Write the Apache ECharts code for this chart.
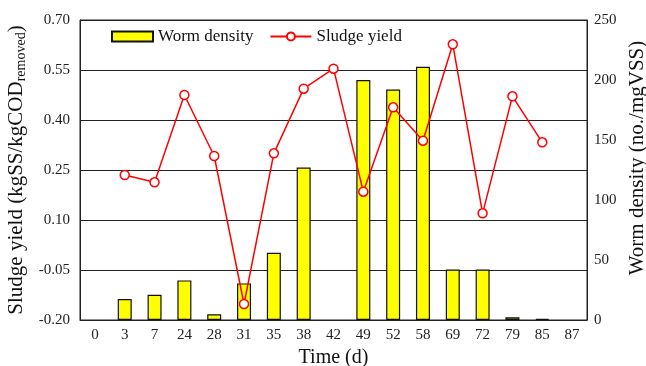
<!DOCTYPE html>
<html>
<head>
<meta charset="utf-8">
<script src="https://cdn.jsdelivr.net/npm/echarts@6/dist/echarts.min.js"></script>
<style>
  html, body { margin: 0; padding: 0; background: #fff; }
  #main { width: 646px; height: 366px; }
</style>
</head>
<body>
<div id="main"></div>
<script>
// days on the x axis
var days = ['0', '3', '7', '24', '28', '31', '35', '38', '42', '49', '52', '58', '69', '72', '79', '85', '87'];
// worm density (no./mgVSS), right axis
var wormDensity = [null, 17.5, 21, 33, 4.7, 30.5, 56, 127, null, 200, 192, 211, 42, 42, 2.2, 1, null];
// sludge yield (kgSS/kgCOD removed), left axis
var sludgeYield = [null, 0.235, 0.213, 0.475, 0.292, -0.152, 0.30, 0.494, 0.554, 0.185, 0.438, 0.338, 0.627, 0.12, 0.471, 0.333, null];

var font = 'Liberation Serif';
var chart = echarts.init(document.getElementById('main'));

var option = {
  textStyle: { fontFamily: font },
  grid: {
    left: 80, right: 59, top: 20, bottom: 46,
    outerBoundsMode: 'none',
    show: true, borderColor: '#222', borderWidth: 1
  },
  legend: {
    left: 106, top: 23,
    itemWidth: 41, itemHeight: 10, itemGap: 16,
    textStyle: { fontFamily: font, fontSize: 17, color: '#111' },
    data: [{ name: 'Worm density', icon: 'rect' }, { name: 'Sludge yield' }]
  },
  xAxis: {
    type: 'category',
    data: days,
    axisLine: { onZero: false, lineStyle: { color: '#222' } },
    axisTick: { show: false },
    axisLabel: { fontFamily: font, fontSize: 15, color: '#222', margin: 8 },
    name: 'Time (d)',
    nameLocation: 'middle',
    nameGap: 27,
    nameTextStyle: { fontFamily: font, fontSize: 20, color: '#111' }
  },
  yAxis: [
    {
      type: 'value',
      min: -0.2, max: 0.7, interval: 0.15,
      axisLine: { show: true, lineStyle: { color: '#222' } },
      axisTick: { show: false },
      splitLine: { lineStyle: { color: '#222', width: 1 } },
      axisLabel: {
        fontFamily: font, fontSize: 15, color: '#222', margin: 10,
        formatter: function (v) { return v.toFixed(2); }
      },
      name: '{a|Sludge yield (kgSS/kgCOD}{b|removed}{a|)}',
      nameLocation: 'middle',
      nameGap: 50,
      nameTextStyle: {
        rich: {
          a: { fontFamily: font, fontSize: 21, color: '#111' },
          b: { fontFamily: font, fontSize: 14, color: '#111', verticalAlign: 'bottom', padding: [9, 0, 0, 0] }
        }
      }
    },
    {
      type: 'value',
      min: 0, max: 250, interval: 50,
      axisLine: { show: true, lineStyle: { color: '#222' } },
      axisTick: { show: false },
      splitLine: { show: false },
      axisLabel: { fontFamily: font, fontSize: 15, color: '#222', margin: 7 },
      name: 'Worm density (no./mgVSS)',
      nameLocation: 'middle',
      nameGap: 35,
      nameRotate: 90,
      nameTextStyle: { fontFamily: font, fontSize: 21, color: '#111', padding: [0, 0, 0, 24] }
    }
  ],
  series: [
    {
      name: 'Worm density',
      type: 'bar',
      yAxisIndex: 1,
      barWidth: 14,
      data: wormDensity,
      itemStyle: { color: '#ffff00', borderColor: '#111', borderWidth: 1.2 }
    },
    {
      name: 'Sludge yield',
      type: 'line',
      yAxisIndex: 0,
      data: sludgeYield,
      symbol: 'circle',
      symbolSize: 9,
      lineStyle: { color: '#ff0000', width: 1.5 },
      itemStyle: { color: '#ffffff', borderColor: '#ff0000', borderWidth: 1.5 }
    }
  ]
};

chart.setOption(option);
</script>
</body>
</html>
